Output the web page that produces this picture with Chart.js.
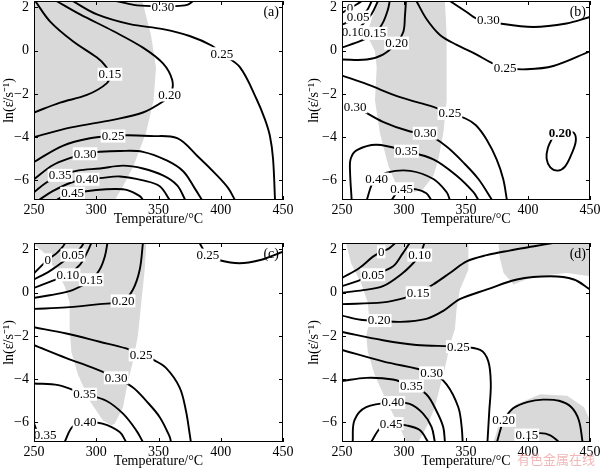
<!DOCTYPE html>
<html>
<head>
<meta charset="utf-8">
<script src="https://cdn.jsdelivr.net/npm/chart.js@4.4.1/dist/chart.umd.min.js"></script>
<style>
  body { margin: 0; background: #fff; width: 600px; height: 470px; overflow: hidden; position: relative; }
  canvas { position: absolute; }
  #wm { position: absolute; left: 517px; top: 449px; font: 13px 'Noto Sans CJK SC', sans-serif; color: rgba(236, 160, 160, 0.75); white-space: nowrap; }
</style>
</head>
<body>
<canvas id="pa" width="300" height="235" style="left:0;top:0"></canvas>
<canvas id="pb" width="300" height="235" style="left:300px;top:0"></canvas>
<canvas id="pc" width="300" height="235" style="left:0;top:235px"></canvas>
<canvas id="pd" width="300" height="235" style="left:300px;top:235px"></canvas>
<div id="wm">有色金属在线</div>
<script>
// ---- axes ----
const xTicks = [250, 300, 350, 400, 450];
const yTicks = [-6, -4, -2, 0, 2];
const xRange = [250, 450];
const yRange = [-6.91, 2.30];

// ---- panel (a) ----
const aShade = [[[250,2.3],[337,2.3],[344,0.72],[348,-0.79],[346,-2.3],[340,-3.8],[330,-5.32],[322,-6.22],[315,-6.91],[250,-6.91]]];
const aLines = [
  [[251,2.3],[262.8,1.36],[281,0.45],[300.6,-0.32],[307,-0.68],[311,-1.09],[308.6,-1.5],[292.5,-2.05],[271,-2.4],[250,-2.86]],
  [[268,2.3],[287,1.68],[313.5,0.91],[337.5,0.14],[353.6,-0.59],[361,-1.36],[360,-2.0],[353.6,-2.35],[337.5,-2.86],[313.5,-3.2],[280,-3.55],[250,-4.0]],
  [[281,2.3],[300.6,1.68],[327,1.23],[353.6,1.0],[375,0.68],[393,0.23],[401,-0.14],[415.5,-0.77],[429,-2.27],[435.5,-3.18],[439.5,-3.95],[442,-5.0],[443.6,-6.91]],
  [[316,2.3],[330,2.12],[345,2.06],[362,2.06],[373,2.12],[378,2.3]],
  [[250,-5.15],[273,-4.4],[295,-4.05],[313.5,-3.95],[325,-3.91],[343,-3.95],[365,-4.05],[381,-4.86],[397,-5.77],[406,-6.36],[411.4,-6.91]],
  [[250,-5.95],[265,-5.3],[280,-4.95],[291,-4.77],[303,-4.68],[319,-4.64],[337.5,-4.68],[357,-5.09],[370,-5.59],[379,-6.36],[385,-6.91]],
  [[250,-6.55],[260,-6.1],[271,-5.77],[285,-5.55],[303,-5.45],[321.5,-5.32],[337.5,-5.45],[353.6,-5.77],[365,-6.23],[371.5,-6.91]],
  [[254,-6.91],[265,-6.5],[280,-6.1],[292.6,-5.95],[303,-5.9],[319,-5.82],[337.5,-6.0],[351,-6.27],[359,-6.91]],
  [[268,-6.91],[275,-6.7],[281,-6.6],[300,-6.45],[315,-6.4],[325,-6.45],[335,-6.73],[337.5,-6.91]]
];
const aLabels = [['0.30',353.6,2.04],['0.25',401,-0.14],['0.15',311,-1.09],['0.20',359,-2.05],['0.25',313.5,-3.95],
  ['0.30',291,-4.77],['0.35',271,-5.77],['0.40',292.6,-5.95],['0.45',281,-6.6]];

// ---- panel (b) ----
const bShade = [[[279.3,2.3],[333,2.3],[334.4,0.73],[334.4,-2.3],[331.7,-3.82],[327.7,-5.03],[323.7,-5.79],[315.6,-6.39],[304.8,-6.62],
  [299.5,-6.55],[294,-6.24],[287.4,-5.33],[280.6,-3.82],[276.6,-2.3],[278,-0.79],[276.6,-0.03],[270,0.73],[274,1.48]]];
const bLines = [
  [[250,1.75],[256.5,1.97],[262,2.15],[266,2.3]],
  [[250,1.2],[257,1.38],[263,1.56],[270,1.86],[274,2.3]],
  [[250,0.73],[259,0.88],[266,1.18],[274,1.71],[279,2.3]],
  [[250,0.15],[265,0.45],[276.6,0.8],[283,1.3],[287,1.9],[288.5,2.3]],
  [[250,-0.41],[270,-0.41],[283,-0.18],[294,0.35],[299.5,0.88],[300.8,1.64],[301.6,2.3]],
  [[310,2.3],[318,1.48],[329,0.73],[342.5,0.27],[358.6,-0.18],[370.7,-0.56],[381.5,-0.79],[399,-0.86],[420.4,-0.71],[450,-0.03]],
  [[337,2.3],[350.5,1.79],[358.6,1.48],[368,1.41],[377.4,1.26],[404.3,1.1],[431,1.26],[450,1.56]],
  [[250,-1.15],[270,-1.55],[296.8,-2.15],[323.7,-2.6],[337,-2.9],[350,-3.15],[358,-3.45],[366.7,-4.12],[374.7,-5.03],[380,-5.94],[383,-6.91]],
  [[250,-2.45],[260.5,-2.6],[283,-3.29],[305,-3.74],[317,-3.82],[334,-4.42],[348,-5.18],[360,-5.94],[371,-6.91]],
  [[257.8,-6.91],[256.5,-5.6],[257,-5.0],[262,-4.6],[278,-4.35],[302,-4.65],[323.7,-5.03],[342.5,-5.79],[356,-6.55],[360,-6.91]],
  [[270,-6.91],[274,-6.2],[278,-5.94],[286,-5.64],[305,-5.56],[323.7,-5.94],[334.4,-6.55],[337,-6.91]],
  [[290,-6.91],[295,-6.5],[298,-6.39],[310,-6.42],[318,-6.6],[322,-6.91]],
  [[420,-4.0],[416,-4.5],[415,-5.0],[418,-5.4],[424,-5.55],[430,-5.35],[435,-4.8],[438.5,-4.2],[437,-3.8],[430,-3.72],[423,-3.75],[420,-4.0]]
];
const bLabels = [['0',256.5,1.97],['0.05',263,1.56],['0.10',259,0.88],['0.15',276.6,0.8],['0.20',294,0.35],['0.30',368,1.41],
  ['0.25',381.5,-0.79],['0.25',337,-2.9],['0.30',260.5,-2.6],['0.30',317,-3.82],['0.35',302,-4.65],['0.40',278,-5.94],
  ['0.45',298,-6.39],['0.20',426,-3.82,'bold']];

// ---- panel (c) ----
const cShade = [[[250,2.3],[250,2.24],[257.2,1.89],[269.3,0.91],[274.6,0.3],[278.6,-0.45],[278.6,-1.67],[280,-2.73],[285.3,-3.79],
  [294.7,-5.0],[305.4,-5.91],[312,-6.14],[314.8,-6.06],[321.5,-5.3],[325.5,-4.09],[329.5,-3.18],[333.5,-1.97],[336.2,-0.45],
  [338.9,1.06],[340.2,2.3]]];
const cLines = [
  [[250,0.9],[261,1.52],[268,1.82],[273,2.12],[275,2.3]],
  [[250,0.61],[262.6,1.0],[275,1.5],[281.3,1.74],[287,2.05],[290,2.3]],
  [[250,0.22],[262.6,0.5],[277,0.83],[287,1.3],[293,1.9],[296,2.3]],
  [[250,-0.24],[262.6,-0.12],[281,0.12],[296,0.6],[303,1.1],[307,1.7],[309,2.3]],
  [[250,-0.75],[276,-0.68],[302.7,-0.53],[321.5,-0.38],[329.5,0.15],[334.9,1.06],[337.5,2.3]],
  [[383,2.3],[386,2.0],[389.7,1.74],[399,1.5],[415,1.36],[431,1.5],[450,1.9]],
  [[250,-1.6],[276,-1.89],[302.7,-2.27],[324,-2.58],[336,-2.88],[345.6,-3.1],[356,-3.48],[367,-4.39],[372,-5.45],[375,-6.52],[376,-6.91]],
  [[250,-2.43],[276,-3.03],[297.4,-3.48],[316,-3.94],[329.5,-4.39],[340,-5.0],[351,-5.76],[359,-6.67],[360,-6.91]],
  [[250,-4.2],[269.5,-4.28],[290.7,-4.7],[308,-5.0],[321.5,-5.6],[332,-6.36],[337.5,-6.91]],
  [[274.6,-6.91],[281,-6.2],[290.7,-6.0],[305,-6.06],[318.8,-6.45],[324,-6.91]],
  [[250,-6.05],[252.5,-6.45],[255,-6.91]]
];
const cLabels = [['0',261,1.52],['0.05',281.3,1.74],['0.10',277.3,0.83],['0.15',296,0.6],['0.20',321.5,-0.38],['0.25',389.7,1.74],
  ['0.25',336,-2.88],['0.30',316,-3.94],['0.35',290.7,-4.7],['0.40',291,-6.0],['0.35',259,-6.6]];

// ---- panel (d) ----
const dShade = [
  [[253.2,2.3],[351.9,2.3],[351.9,1.06],[345.1,0.15],[342.4,-0.76],[341.1,-1.67],[337,-2.42],[333,-3.48],[328.9,-4.39],[324.9,-5.3],
   [319.5,-6.06],[314,-6.67],[311.4,-6.91],[301.9,-6.91],[295.1,-6.06],[285.7,-5.0],[276.2,-3.79],[270.8,-2.73],[269.5,-1.97],
   [272.2,-1.36],[270.8,-0.45],[265.4,0.45],[257.3,1.36]],
  [[376.2,2.3],[450,2.3],[450,0.76],[431.6,0.91],[404.6,0.76],[388.4,0.38],[380.3,0.91],[377,1.67]],
  [[372.2,-6.91],[377.6,-5.91],[391.1,-5.15],[410,-4.7],[431.6,-4.77],[445.2,-5.3],[450,-5.91],[450,-6.91]]
];
const dLines = [
  [[250,0.68],[264,1.14],[275,1.67],[281.6,1.89],[288,2.05],[293,2.3]],
  [[250,0.3],[263,0.55],[274.9,0.83],[291,1.21],[299,1.82],[304.6,2.3]],
  [[250,0],[267,0.12],[283,0.3],[299,0.91],[308,1.4],[312.7,1.74],[316.5,2.3]],
  [[250,-0.53],[283,-0.45],[300,-0.25],[311.4,0],[323.5,0.38],[337,0.91],[350.5,1.45],[366.8,1.74],[385,1.95],[405,2.15],[420,2.3]],
  [[250,-1.06],[265,-1.25],[280,-1.29],[297,-1.35],[318,-1.21],[332,-0.83],[345,-0.3],[367,0.15],[391,0.61],[418,0.76],[437,0.61],[450,0.15]],
  [[250,-1.82],[283,-2.2],[310,-2.42],[343.8,-2.5],[361.4,-2.65],[368,-3.18],[370,-4.24],[368.8,-5.45],[367.3,-6.91]],
  [[250,-2.65],[283,-3.18],[322.2,-3.71],[334.3,-4.24],[343.8,-5.3],[346.5,-6.21],[347.3,-6.91]],
  [[250,-4.09],[269.5,-3.94],[291,-4.02],[306,-4.32],[318,-4.7],[326,-5.45],[331.6,-6.21],[333,-6.91]],
  [[258.6,-6.91],[260,-5.91],[269.5,-5.3],[291,-5.08],[304.6,-5.15],[315.4,-5.6],[322.2,-6.21],[324.9,-6.91]],
  [[273.5,-6.91],[281.6,-6.21],[289.7,-6.06],[301.9,-6.14],[312.7,-6.36],[319.5,-6.91]],
  [[375,-6.91],[378,-6.3],[380.3,-5.91],[388,-5.35],[400,-5.05],[412,-4.95],[425,-5.0],[435,-5.3],[441,-5.9],[444,-6.91]],
  [[391,-6.91],[396,-6.65],[399,-6.59],[410,-6.5],[418,-6.6],[425,-6.91]]
];
const dLabels = [['0',281.6,1.89],['0.05',274.9,0.83],['0.10',312.7,1.74],['0.15',311.4,0],['0.20',280,-1.29],['0.25',343.8,-2.5],
  ['0.30',322.2,-3.71],['0.35',306,-4.32],['0.40',291,-5.08],['0.45',289.7,-6.06],['0.20',380.3,-5.91],['0.15',399,-6.59]];

const FONT = "'Liberation Serif', 'Times New Roman', serif";
Chart.defaults.font.family = FONT;
Chart.defaults.color = '#000';

const toPts = arr => arr.map(p => ({ x: p[0], y: p[1] }));
const minus = v => (v < 0 ? '\u2212' + Math.abs(v) : String(v));

// shading under lines, labels, box frame and inward ticks
const contourDecor = {
  id: 'contourDecor',
  beforeDatasetsDraw(chart) {
    const ctx = chart.ctx, a = chart.chartArea;
    ctx.save();
    ctx.beginPath();
    ctx.rect(a.left, a.top, a.width, a.height);
    ctx.clip();
    chart.data.datasets.forEach((ds, i) => {
      if (!ds.shade) return;
      const pts = chart.getDatasetMeta(i).data;
      ctx.beginPath();
      pts.forEach((p, k) => (k ? ctx.lineTo(p.x, p.y) : ctx.moveTo(p.x, p.y)));
      ctx.closePath();
      ctx.fillStyle = '#d9d9d9';
      ctx.fill();
    });
    ctx.restore();
  },
  afterDatasetsDraw(chart, args, opts) {
    const ctx = chart.ctx, a = chart.chartArea;
    const sx = chart.scales.x, sy = chart.scales.y;
    ctx.save();
    ctx.beginPath();
    ctx.rect(a.left, a.top, a.width, a.height);
    ctx.clip();
    ctx.textAlign = 'center';
    ctx.textBaseline = 'middle';
    (opts.labels || []).forEach(([t, lx, ly, weight]) => {
      ctx.font = (weight ? weight + ' ' : '') + '13px ' + FONT;
      const px = sx.getPixelForValue(lx), py = sy.getPixelForValue(ly);
      const w = ctx.measureText(t).width;
      ctx.fillStyle = '#fff';
      ctx.fillRect(px - w / 2 - 1, py - 6.5, w + 2, 13);
      ctx.fillStyle = '#000';
      ctx.fillText(t, px, py + 0.5);
    });
    ctx.restore();

    ctx.save();
    ctx.strokeStyle = '#000';
    ctx.lineWidth = 1;
    ctx.strokeRect(a.left + 0.5, a.top + 0.5, a.width - 1, a.height - 1);
    ctx.beginPath();
    xTicks.forEach(v => {
      const px = Math.round(sx.getPixelForValue(v)) + 0.5;
      ctx.moveTo(px, a.bottom); ctx.lineTo(px, a.bottom - 4);
      ctx.moveTo(px, a.top); ctx.lineTo(px, a.top + 4);
    });
    yTicks.forEach(v => {
      const py = Math.round(sy.getPixelForValue(v)) + 0.5;
      ctx.moveTo(a.left, py); ctx.lineTo(a.left + 4, py);
      ctx.moveTo(a.right, py); ctx.lineTo(a.right - 4, py);
    });
    ctx.stroke();
    ctx.font = '14px ' + FONT;
    ctx.fillStyle = '#000';
    ctx.textAlign = 'right';
    ctx.textBaseline = 'middle';
    ctx.fillText(opts.tag, a.right - 4, a.top + 11);
    ctx.restore();
  }
};

function makePanel(id, shades, lines, labels, tag, right, bottom) {
  const datasets = [];
  shades.forEach(s => datasets.push({ data: toPts(s), shade: true, showLine: false, pointRadius: 0 }));
  lines.forEach(l => datasets.push({
    data: toPts(l), showLine: true, borderColor: '#000', borderWidth: 1.9,
    pointRadius: 0, tension: 0.35, fill: false
  }));
  return new Chart(document.getElementById(id), {
    type: 'scatter',
    data: { datasets },
    plugins: [contourDecor],
    options: {
      responsive: false,
      animation: false,
      devicePixelRatio: 1,
      events: [],
      layout: { padding: { left: 0, right: right ? 10 : 17, top: bottom ? 8 : 1, bottom: bottom ? 0 : 7 } },
      plugins: {
        legend: { display: false },
        tooltip: { enabled: false },
        contourDecor: { labels, tag }
      },
      scales: {
        x: {
          type: 'linear', min: xRange[0], max: xRange[1],
          afterBuildTicks: s => { s.ticks = xTicks.map(v => ({ value: v })); },
          afterFit: s => { s.height = 28; s.paddingLeft = 0; s.paddingRight = 0; },
          grid: { display: false, drawTicks: false },
          border: { display: false },
          ticks: { font: { size: 14 }, padding: 2, maxRotation: 0, autoSkip: false, callback: v => String(v) },
          title: { display: true, text: 'Temperature/\u00B0C', font: { size: 14 }, padding: 0 }
        },
        y: {
          type: 'linear', min: yRange[0], max: yRange[1],
          afterBuildTicks: s => { s.ticks = yTicks.map(v => ({ value: v })); },
          afterFit: s => { s.width = right ? 42 : 34; s.paddingTop = 0; s.paddingBottom = 0; },
          grid: { display: false, drawTicks: false },
          border: { display: false },
          ticks: { font: { size: 14 }, padding: 5, autoSkip: false, callback: v => minus(v) },
          title: { display: true, text: 'ln(\u03B5\u0307/s\u207B\u00B9)', font: { size: 14 }, padding: { top: right ? 5.5 : 0.5, bottom: 0 } }
        }
      }
    }
  });
}

makePanel('pa', aShade, aLines, aLabels, '(a)', false, false);
makePanel('pb', bShade, bLines, bLabels, '(b)', true, false);
makePanel('pc', cShade, cLines, cLabels, '(c)', false, true);
makePanel('pd', dShade, dLines, dLabels, '(d)', true, true);
</script>
</body>
</html>
